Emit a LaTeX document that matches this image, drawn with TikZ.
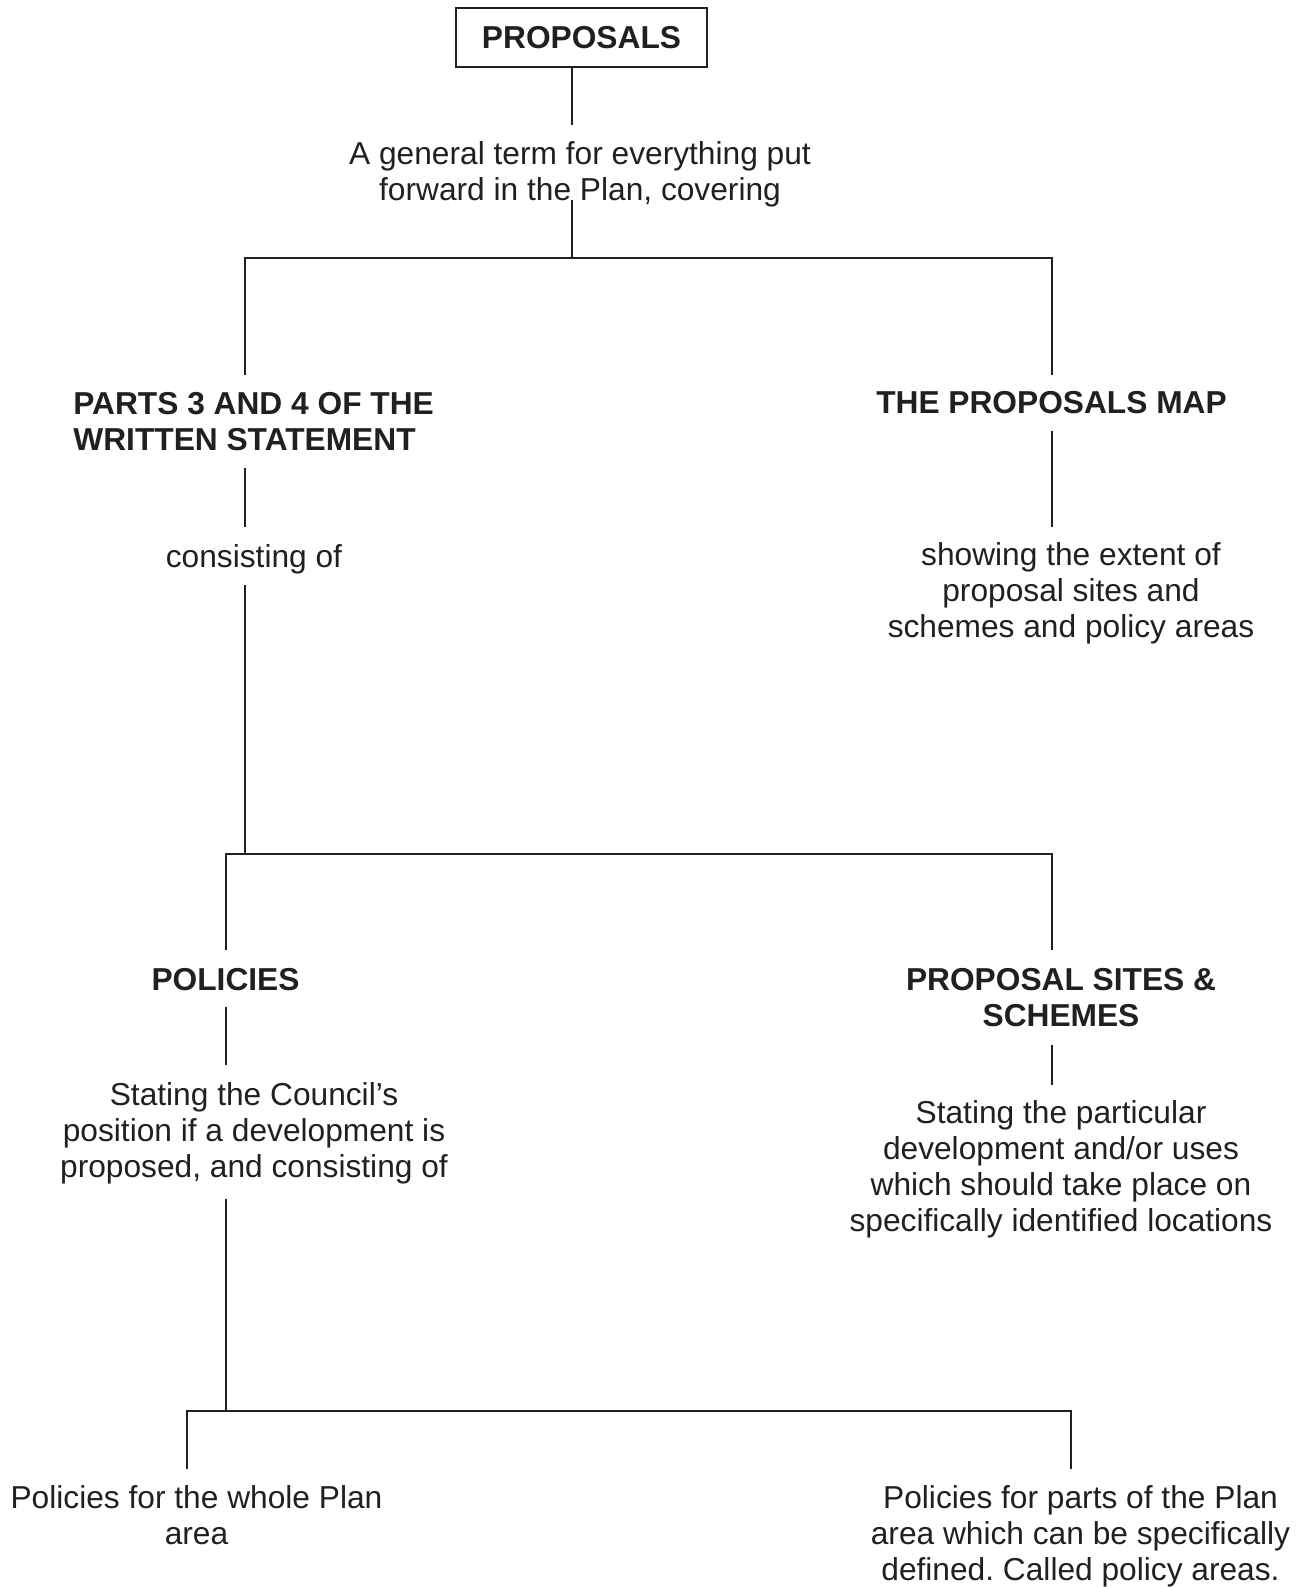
\documentclass[tikz,border=0pt]{standalone}
\usepackage{fontspec}
\setmainfont{Liberation Sans}
\definecolor{ink}{HTML}{231F20}
\tikzset{
  txt/.style={anchor=north, inner sep=0pt, align=center, text=ink,
    font=\fontsize{15.85pt}{18pt}\selectfont\frenchspacing},
  head/.style={txt, font=\fontsize{15.85pt}{18pt}\selectfont\bfseries},
  topbox/.style={head, anchor=center, draw=ink, line width=1pt,
    minimum width=125.5pt, minimum height=29.5pt},
}
\begin{document}
\begin{tikzpicture}[x=0.5pt, y=-0.5pt]
      \useasboundingbox (0,0) rectangle (1308,1587);
      \draw
        (581.5,37.5) node[topbox] (prop) {PROPOSALS}
        (580,141) node[txt] (term) {A general term for everything put\\forward in the Plan, covering}
        (73,392) node[head, anchor=north west, align=left] (parts) {PARTS 3 AND 4 OF THE\\WRITTEN STATEMENT}
        (1051.5,391) node[head] (map) {THE PROPOSALS MAP}
        (254,544) node[txt] (consist) {consisting of}
        (1071,542) node[txt] (showing) {showing the extent of\\proposal sites and\\schemes and policy areas}
        (225.5,968) node[head] (policies) {POLICIES}
        (1061,968) node[head] (sites) {PROPOSAL SITES \&\\SCHEMES}
        (254,1082) node[txt] (council) {Stating the Council’s\\position if a development is\\proposed, and consisting of}
        (1061,1100) node[txt] (stating) {Stating the particular\\development and/or uses\\which should take place on\\specifically identified locations}
        (196.5,1485) node[txt] (whole) {Policies for the whole Plan\\area}
        (1080.5,1485) node[txt] (partial) {Policies for parts of the Plan\\area which can be specifically\\defined. Called policy areas.};
      \coordinate (j1) at (572,258);
      \coordinate (j1l) at (245,258);
      \coordinate (j1r) at (1052,258);
      \coordinate (j2) at (245,854);
      \coordinate (j2l) at (226,854);
      \coordinate (j2r) at (1052,854);
      \coordinate (j3) at (226,1411);
      \coordinate (j3l) at (187,1411);
      \coordinate (j3r) at (1071,1411);
      \begin{scope}[draw=ink, line width=1pt]
        \draw[shorten >=8pt] (prop.south -| j1) -- (term.north -| j1);
        \draw[shorten <=-3.5pt] (term.south -| j1) -- (j1);
        \draw[shorten <=8.5pt, shorten >=8pt] (parts.north -| j1l) -- (j1l) -- (j1r) -- (map.north -| j1r);
        \draw[shorten <=8.5pt, shorten >=8.5pt] (parts.south -| j2) -- (consist.north -| j2);
        \draw[shorten <=8.5pt, shorten >=7.5pt] (map.south -| j1r) -- (showing.north -| j1r);
        \draw[shorten <=5.5pt] (consist.south -| j2) -- (j2);
        \draw[shorten <=9pt, shorten >=9pt] (policies.north -| j2l) -- (j2l) -- (j2r) -- (sites.north -| j2r);
        \draw[shorten <=8pt, shorten >=8.5pt] (policies.south -| j2l) -- (council.north -| j2l);
        \draw[shorten <=9pt, shorten >=7.5pt] (sites.south -| j2r) -- (stating.north -| j2r);
        \draw[shorten <=7.5pt] (council.south -| j3) -- (j3);
        \draw[shorten <=8pt, shorten >=8pt] (whole.north -| j3l) -- (j3l) -- (j3r) -- (partial.north -| j3r);
      \end{scope}
    \end{tikzpicture}
\end{document}
